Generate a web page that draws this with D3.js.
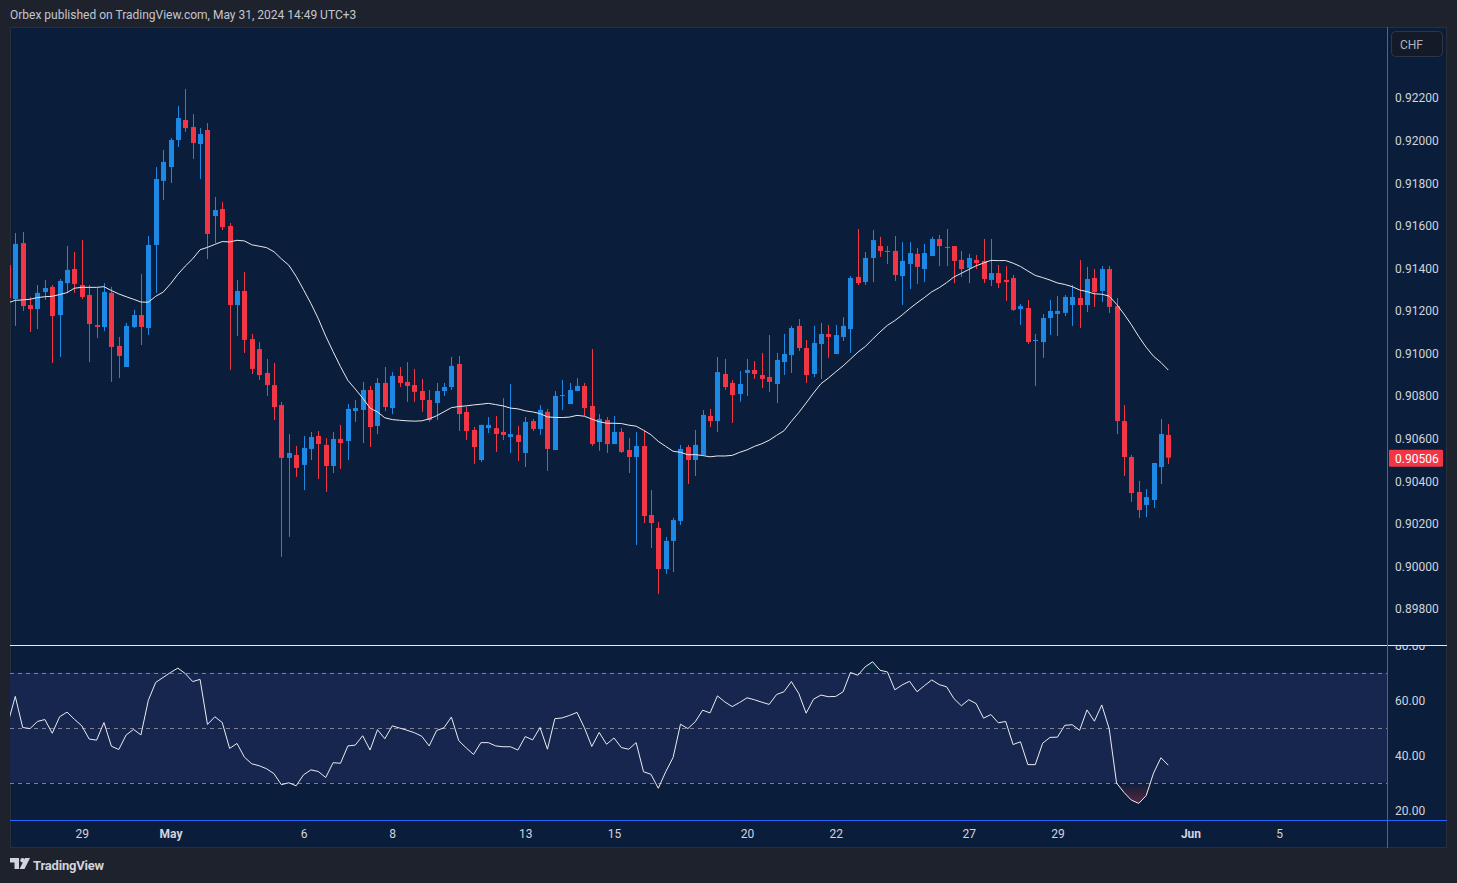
<!DOCTYPE html>
<html><head><meta charset="utf-8">
<script src="https://cdn.jsdelivr.net/npm/d3@7"></script>
<style>
html,body{margin:0;padding:0;background:#1e222d;overflow:hidden;}
svg{display:block;font-family:Roboto,"Noto Sans",sans-serif;}
</style></head><body>
<svg id="c" width="1457" height="883"></svg>
<script>
const openP=[
0.91411,0.91251,0.91514,0.91223,0.91204,0.91284,0.91308,0.91176,0.91326,0.91392,
0.91317,0.91270,0.91129,0.91120,0.91280,0.91031,0.90932,0.91120,0.91176,0.91115,
0.91505,0.91806,0.91871,0.91998,0.92092,0.92059,0.91979,0.92045,0.91641,0.91674,
0.91594,0.91223,0.91289,0.91063,0.91016,0.90904,0.90847,0.90753,0.90505,0.90519,
0.90472,0.90547,0.90608,0.90566,0.90467,0.90594,0.90584,0.90725,0.90730,0.90824,
0.90655,0.90857,0.90739,0.90890,0.90862,0.90847,0.90819,0.90777,0.90763,0.90819,
0.90838,0.90946,0.90721,0.90636,0.90495,0.90645,0.90645,0.90627,0.90603,0.90613,
0.90528,0.90678,0.90641,0.90721,0.90542,0.90796,0.90758,0.90819,0.90843,0.90749,
0.90580,0.90683,0.90570,0.90627,0.90542,0.90509,0.90561,0.90237,0.90176,0.89983,
0.90115,0.90209,0.90556,0.90495,0.90519,0.90702,0.90678,0.90899,0.90857,0.90805,
0.90904,0.90918,0.90894,0.90885,0.90852,0.90955,0.90988,0.91125,0.91021,0.90899,
0.91040,0.91087,0.90993,0.91073,0.91110,0.91355,0.91331,0.91444,0.91500,0.91477,
0.91477,0.91359,0.91416,0.91463,0.91392,0.91453,0.91533,0.91496,0.91500,0.91435,
0.91397,0.91435,0.91430,0.91341,0.91373,0.91341,0.91350,0.91204,0.91209,0.91054,
0.91049,0.91162,0.91181,0.91186,0.91223,0.91256,0.91223,0.91350,0.91289,0.91392,
0.91218,0.90678,0.90509,0.90345,0.90284,0.90307,0.90462,0.90613];
const highP=[
0.91425,0.91561,0.91566,0.91261,0.91317,0.91341,0.91317,0.91345,0.91500,0.91472,
0.91528,0.91317,0.91303,0.91326,0.91308,0.91073,0.91139,0.91200,0.91369,0.91547,
0.91871,0.91951,0.92007,0.92158,0.92238,0.92120,0.92054,0.92078,0.91730,0.91707,
0.91608,0.91341,0.91378,0.91087,0.91049,0.90970,0.90951,0.90768,0.90617,0.90561,
0.90608,0.90627,0.90631,0.90598,0.90627,0.90660,0.90758,0.90777,0.90862,0.90843,
0.90880,0.90932,0.90908,0.90932,0.90955,0.90923,0.90876,0.90824,0.90857,0.90857,
0.90979,0.90984,0.90744,0.90650,0.90660,0.90697,0.90702,0.90786,0.90852,0.90655,
0.90697,0.90688,0.90753,0.90735,0.90819,0.90871,0.90857,0.90880,0.90857,0.91016,
0.90711,0.90697,0.90702,0.90645,0.90598,0.90627,0.90636,0.90354,0.90204,0.90134,
0.90223,0.90566,0.90566,0.90636,0.90730,0.90735,0.90979,0.90970,0.90871,0.90913,
0.90970,0.90960,0.90998,0.91082,0.90998,0.91087,0.91125,0.91157,0.91059,0.91125,
0.91139,0.91129,0.91129,0.91166,0.91359,0.91580,0.91472,0.91575,0.91543,0.91500,
0.91547,0.91519,0.91519,0.91491,0.91510,0.91543,0.91552,0.91580,0.91500,0.91477,
0.91463,0.91458,0.91533,0.91533,0.91411,0.91406,0.91364,0.91228,0.91247,0.91087,
0.91181,0.91247,0.91265,0.91270,0.91317,0.91435,0.91402,0.91392,0.91406,0.91406,
0.91256,0.90753,0.90519,0.90397,0.90359,0.90481,0.90688,0.90664];
const lowP=[
0.91247,0.91125,0.91195,0.91096,0.91110,0.91247,0.90951,0.90979,0.91280,0.91280,
0.91251,0.90955,0.91068,0.91101,0.90862,0.90880,0.90932,0.91115,0.91035,0.91082,
0.91280,0.91716,0.91796,0.91965,0.92036,0.91909,0.91815,0.91439,0.91514,0.91575,
0.90918,0.91078,0.90998,0.90899,0.90871,0.90796,0.90683,0.90040,0.90134,0.90415,
0.90354,0.90495,0.90406,0.90345,0.90434,0.90453,0.90495,0.90674,0.90575,0.90556,
0.90617,0.90725,0.90711,0.90838,0.90768,0.90768,0.90721,0.90674,0.90683,0.90796,
0.90824,0.90631,0.90589,0.90476,0.90486,0.90622,0.90533,0.90589,0.90528,0.90490,
0.90462,0.90631,0.90613,0.90444,0.90542,0.90730,0.90758,0.90819,0.90702,0.90561,
0.90538,0.90528,0.90570,0.90528,0.90434,0.90096,0.90199,0.90082,0.89866,0.89960,
0.89969,0.90190,0.90382,0.90420,0.90519,0.90650,0.90627,0.90824,0.90669,0.90768,
0.90796,0.90876,0.90833,0.90815,0.90763,0.90894,0.90904,0.91007,0.90857,0.90885,
0.90876,0.90975,0.90993,0.91054,0.90998,0.91317,0.91317,0.91331,0.91449,0.91416,
0.91336,0.91223,0.91298,0.91322,0.91331,0.91453,0.91406,0.91406,0.91326,0.91355,
0.91326,0.91392,0.91326,0.91312,0.91303,0.91242,0.91195,0.91129,0.91040,0.90843,
0.90975,0.91082,0.91078,0.91171,0.91125,0.91115,0.91190,0.91214,0.91237,0.91186,
0.90617,0.90420,0.90298,0.90223,0.90227,0.90270,0.90382,0.90476];
const closeP=[
0.91256,0.91510,0.91218,0.91204,0.91280,0.91303,0.91171,0.91336,0.91388,0.91322,
0.91261,0.91134,0.91120,0.91284,0.91026,0.90984,0.91125,0.91176,0.91120,0.91505,
0.91815,0.91895,0.91998,0.92101,0.92054,0.91984,0.92026,0.91557,0.91669,0.91589,
0.91223,0.91289,0.91059,0.90923,0.90894,0.90847,0.90744,0.90505,0.90528,0.90458,
0.90552,0.90603,0.90570,0.90467,0.90594,0.90575,0.90735,0.90739,0.90824,0.90650,
0.90857,0.90744,0.90890,0.90857,0.90843,0.90815,0.90777,0.90683,0.90819,0.90838,
0.90937,0.90711,0.90631,0.90556,0.90660,0.90660,0.90617,0.90613,0.90617,0.90580,
0.90674,0.90641,0.90730,0.90547,0.90796,0.90800,0.90824,0.90843,0.90739,0.90570,
0.90688,0.90570,0.90627,0.90533,0.90509,0.90561,0.90232,0.90199,0.89983,0.90115,
0.90213,0.90547,0.90495,0.90566,0.90707,0.90678,0.90908,0.90838,0.90800,0.90852,
0.90918,0.90899,0.90876,0.90862,0.90965,0.90993,0.91115,0.91021,0.90894,0.91045,
0.91087,0.91073,0.91082,0.91125,0.91350,0.91326,0.91444,0.91528,0.91477,0.91472,
0.91364,0.91430,0.91467,0.91402,0.91467,0.91533,0.91500,0.91491,0.91430,0.91392,
0.91444,0.91420,0.91345,0.91373,0.91326,0.91331,0.91200,0.91218,0.91049,0.91059,
0.91162,0.91195,0.91195,0.91261,0.91261,0.91223,0.91345,0.91284,0.91392,0.91214,
0.90678,0.90509,0.90340,0.90260,0.90321,0.90481,0.90617,0.90506];
// 20-period SMA values for the first bars (history before the visible window)
const maLead=[0.91233,0.91245,0.91247,0.91250,0.91258,0.91262,0.91264,0.91272,0.91281,0.91302,
0.91306,0.91306,0.91306,0.91309,0.91291,0.91275,0.91262,0.91250,0.91237];
const rsiV=[
51.6,61.3,50.0,49.6,52.2,52.9,47.9,53.9,55.6,53.0,
50.6,45.8,45.4,51.8,43.2,42.0,47.3,49.3,47.3,59.9,
66.4,68.2,70.0,71.6,69.6,66.7,67.5,51.1,53.9,51.8,
42.4,44.2,39.2,36.8,36.1,35.0,33.2,29.2,29.9,28.8,
32.8,34.6,34.0,31.8,37.2,37.0,43.3,43.6,47.0,41.8,
49.2,45.9,50.6,49.8,49.0,48.1,46.8,43.3,48.9,49.9,
53.8,45.2,42.6,40.2,44.5,44.5,43.3,43.0,43.0,41.8,
46.7,45.5,50.0,42.1,53.2,53.5,54.4,55.5,49.9,43.1,
48.2,43.9,46.2,42.7,42.1,44.5,33.9,33.0,27.9,33.9,
39.1,51.2,49.6,52.1,56.3,55.3,61.5,59.3,57.6,59.1,
60.8,60.1,59.2,58.4,62.0,63.0,66.7,62.4,55.2,60.3,
61.8,61.2,61.3,63.0,70.0,69.0,72.1,73.9,70.8,70.2,
63.7,65.5,66.8,63.0,65.2,67.3,65.6,64.8,60.5,57.9,
60.1,58.7,53.4,54.7,51.7,52.2,43.8,44.8,36.5,36.5,
44.3,46.4,46.5,50.8,51.0,49.0,56.4,52.3,58.2,49.6,
29.8,26.4,23.6,22.4,25.2,33.4,39.0,36.3];
const priceTicks=[0.898,0.900,0.902,0.904,0.906,0.908,0.910,0.912,0.914,0.916,0.918,0.920,0.922];
const rsiTicks=[20,40,60,80];
const rsiLevels=[70,50,30];
const dateIdx=[10,22,40,52,70,82,100,112,130,142,160,172];
const dateLbl=["29","May","6","8","13","15","20","22","27","29","Jun","5"];

const L=10,R=1387,T=27,MB=645,RB=820,B=848,FR=1447;
const svg=d3.select('#c');
const x=d3.scaleLinear().domain([0,157]).range([7.9,1168.3]);
const y=d3.scaleLinear().domain([0.898,0.922]).range([608,97]);
const ry=d3.scaleLinear().domain([20,80]).range([810,645]);
const UP='#1e88e5',DN='#f23645';
const col=i=>closeP[i]>=openP[i]?UP:DN;
const idx=d3.range(closeP.length);

const defs=svg.append('defs');
defs.append('clipPath').attr('id','cm').append('rect').attr('x',L).attr('y',T).attr('width',R-L).attr('height',MB-T);
defs.append('clipPath').attr('id','cr').append('rect').attr('x',L).attr('y',MB).attr('width',R-L).attr('height',RB-MB);
defs.append('clipPath').attr('id','cra').append('rect').attr('x',R).attr('y',MB+1).attr('width',FR-R).attr('height',RB-MB-1);
const gRed=defs.append('linearGradient').attr('id','gRed').attr('gradientUnits','userSpaceOnUse')
  .attr('x1',0).attr('x2',0).attr('y1',ry(30)).attr('y2',ry(20));
gRed.append('stop').attr('offset',0).attr('stop-color','#f23645').attr('stop-opacity',0);
gRed.append('stop').attr('offset',1).attr('stop-color','#f23645').attr('stop-opacity',0.45);
const gGrn=defs.append('linearGradient').attr('id','gGrn').attr('gradientUnits','userSpaceOnUse')
  .attr('x1',0).attr('x2',0).attr('y1',ry(70)).attr('y2',ry(80));
gGrn.append('stop').attr('offset',0).attr('stop-color','#089981').attr('stop-opacity',0);
gGrn.append('stop').attr('offset',1).attr('stop-color','#089981').attr('stop-opacity',0.45);

// header
svg.append('text').attr('x',10).attr('y',19).attr('fill','#c3c6ce').attr('font-size',12)
  .text('Orbex published on TradingView.com, May 31, 2024 14:49 UTC+3');

// frame
svg.append('rect').attr('x',L+0.5).attr('y',T+0.5).attr('width',FR-L-1).attr('height',B-T-1)
  .attr('fill','#0a1e3b').attr('stroke','#2a2e39');

// RSI band
svg.append('rect').attr('x',L).attr('width',R-L).attr('y',ry(70)).attr('height',ry(30)-ry(70)).attr('fill','#16264f');
svg.append('g').selectAll('line').data(rsiLevels).join('line')
  .attr('x1',L).attr('x2',R).attr('y1',d=>Math.round(ry(d))+0.5).attr('y2',d=>Math.round(ry(d))+0.5)
  .attr('stroke','#7d8190').attr('stroke-dasharray','4 4').attr('stroke-width',1);

// candles
const gm=svg.append('g').attr('clip-path','url(#cm)');
gm.selectAll('line.w').data(idx).join('line').attr('class','w')
  .attr('x1',i=>Math.round(x(i))+0.5).attr('x2',i=>Math.round(x(i))+0.5)
  .attr('y1',i=>y(highP[i])).attr('y2',i=>y(lowP[i])).attr('stroke',col).attr('stroke-width',1);
gm.selectAll('rect.b').data(idx).join('rect').attr('class','b')
  .attr('x',i=>Math.round(x(i))-2).attr('width',5)
  .attr('y',i=>y(Math.max(openP[i],closeP[i])))
  .attr('height',i=>Math.max(1,Math.abs(y(openP[i])-y(closeP[i]))))
  .attr('fill',col);

// SMA 20
const ma=idx.map(i=>i<maLead.length?maLead[i]:d3.mean(closeP.slice(i-19,i+1)));
gm.append('path').datum(idx).attr('fill','none').attr('stroke','#e8e8ec').attr('stroke-width',1)
  .attr('d',d3.line().x(i=>x(i)).y(i=>y(ma[i])));

// RSI
const gr=svg.append('g').attr('clip-path','url(#cr)');
gr.append('path').datum(idx).attr('fill','url(#gRed)')
  .attr('d',d3.area().x(i=>x(i)).y0(ry(30)).y1(i=>ry(Math.min(rsiV[i],30))));
gr.append('path').datum(idx).attr('fill','url(#gGrn)')
  .attr('d',d3.area().x(i=>x(i)).y0(ry(70)).y1(i=>ry(Math.max(rsiV[i],70))));
gr.append('path').datum(idx).attr('fill','none').attr('stroke','#ececf0').attr('stroke-width',1)
  .attr('d',d3.line().x(i=>x(i)).y(i=>ry(rsiV[i])));

// separators
svg.append('line').attr('x1',L).attr('x2',FR).attr('y1',MB+0.5).attr('y2',MB+0.5).attr('stroke','#e6e8ee');
svg.append('line').attr('x1',L).attr('x2',FR).attr('y1',RB+0.5).attr('y2',RB+0.5).attr('stroke','#2962ff');
svg.append('line').attr('x1',R+0.5).attr('x2',R+0.5).attr('y1',T).attr('y2',B).attr('stroke','#2962ff');

// price axis
const pa=svg.append('g').attr('transform',`translate(${R+2},1)`)
  .call(d3.axisRight(y).tickValues(priceTicks).tickFormat(d3.format('.5f')).tickSize(0).tickPadding(6));
pa.select('.domain').remove();
pa.selectAll('text').attr('fill','#d1d4dc').attr('font-size',12).attr('font-family','Roboto,sans-serif');

// RSI axis
const ra=svg.append('g').attr('clip-path','url(#cra)').append('g').attr('transform',`translate(${R+2},1)`)
  .call(d3.axisRight(ry).tickValues(rsiTicks).tickFormat(d3.format('.2f')).tickSize(0).tickPadding(6));
ra.select('.domain').remove();
ra.selectAll('text').attr('fill','#d1d4dc').attr('font-size',12).attr('font-family','Roboto,sans-serif');

// time axis
const ta=svg.append('g').attr('transform',`translate(0,${RB})`)
  .call(d3.axisBottom(x).tickValues(dateIdx).tickFormat((d,i)=>dateLbl[i]).tickSize(0).tickPadding(9));
ta.select('.domain').remove();
ta.selectAll('text').attr('fill','#d1d4dc').attr('font-size',12).attr('font-family','Roboto,sans-serif')
  .attr('font-weight',(d,i)=>(dateLbl[i]==='May'||dateLbl[i]==='Jun')?'bold':'normal');

// last price label
const lc=closeP[closeP.length-1];
svg.append('rect').attr('x',R+2).attr('y',y(lc)-8).attr('width',54).attr('height',17).attr('fill','#f23645').attr('rx',1);
svg.append('text').attr('x',R+8).attr('y',y(lc)+1).attr('dy','0.35em').attr('fill','#ffffff').attr('font-size',12)
  .text(d3.format('.5f')(lc));

// currency button
svg.append('rect').attr('x',1391.5).attr('y',31.5).attr('width',51).attr('height',25).attr('rx',4)
  .attr('fill','#131a28').attr('stroke','#2f3545');
svg.append('text').attr('x',1400).attr('y',49).attr('fill','#b2b5be').attr('font-size',12).text('CHF');

// footer logo
const lg=svg.append('g').attr('fill','#d1d4dc');
lg.append('path').attr('d','M10 858h9v11h-4.5v-6.5H10z');
lg.append('circle').attr('cx',22.5).attr('cy',860.3).attr('r',2.2);
lg.append('path').attr('d','M25 858h5l-5.5 11h-5z');
svg.append('text').attr('x',33).attr('y',870).attr('fill','#d1d4dc').attr('font-size',13).attr('font-weight','bold')
  .attr('letter-spacing','-0.2').text('TradingView');
</script>
</body></html>
